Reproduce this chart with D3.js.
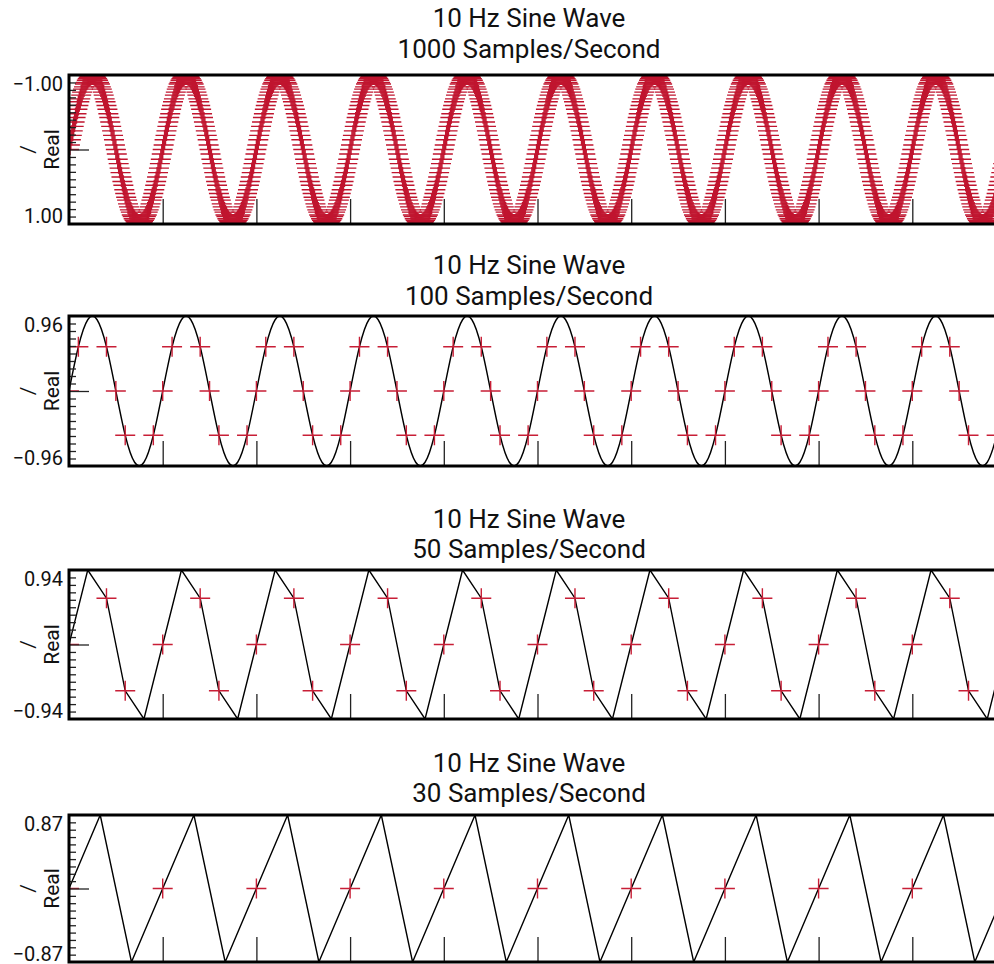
<!DOCTYPE html>
<html>
<head>
<meta charset="utf-8">
<script src="https://cdn.jsdelivr.net/npm/d3@7/dist/d3.min.js"></script>
<style>
  body { margin: 0; background: #fff; }
  svg { display: block; font-family: Roboto, sans-serif; }
</style>
</head>
<body>
<div id="chart"></div>
<script>
// ---- data ----
var titles = ["10 Hz Sine Wave", "10 Hz Sine Wave", "10 Hz Sine Wave", "10 Hz Sine Wave"];
var subtitles = ["1000 Samples/Second", "100 Samples/Second", "50 Samples/Second", "30 Samples/Second"];
var sampleRates = [1000, 100, 50, 30];

// one period of each sampled signal (the picture repeats it 10 times over 1 s)
var cycle1000 = [0, -0.06, -0.13, -0.19, -0.25, -0.31, -0.37, -0.43, -0.48, -0.54,
  -0.59, -0.64, -0.68, -0.73, -0.77, -0.81, -0.84, -0.88, -0.90, -0.93,
  -0.95, -0.97, -0.98, -0.99, -1.00, -1.00, -1.00, -0.99, -0.98, -0.97,
  -0.95, -0.93, -0.90, -0.88, -0.84, -0.81, -0.77, -0.73, -0.68, -0.64,
  -0.59, -0.54, -0.48, -0.43, -0.37, -0.31, -0.25, -0.19, -0.13, -0.06,
  0, 0.06, 0.13, 0.19, 0.25, 0.31, 0.37, 0.43, 0.48, 0.54,
  0.59, 0.64, 0.68, 0.73, 0.77, 0.81, 0.84, 0.88, 0.90, 0.93,
  0.95, 0.97, 0.98, 0.99, 1.00, 1.00, 1.00, 0.99, 0.98, 0.97,
  0.95, 0.93, 0.90, 0.88, 0.84, 0.81, 0.77, 0.73, 0.68, 0.64,
  0.59, 0.54, 0.48, 0.43, 0.37, 0.31, 0.25, 0.19, 0.13, 0.06];
var cycle100 = [0, 0.59, 0.95, 0.95, 0.59, 0, -0.59, -0.95, -0.95, -0.59];
var cycle50 = [0, 0.95, 0.59, -0.59, -0.95];
var cycle30 = [0, 0.87, -0.87];
var cycles = [cycle1000, cycle100, cycle50, cycle30];

// y extent per panel, value at top first (first panel is upside down)
var yTop = [-1, 1, 0.95, 0.87];
var yBottom = [1, -1, -0.95, -0.87];
var yTickLabels = [["\u22121.00", "1.00"], ["0.96", "\u22120.96"], ["0.94", "\u22120.94"], ["0.87", "\u22120.87"]];
var xTickValues = [0.1, 0.2, 0.3, 0.4, 0.5, 0.6, 0.7, 0.8, 0.9, 1.0];
var timeSpan = [0, 1];

// smooth line only in the 100 S/s plot
var smoothLine = [false, true, false, false];
// the peak samples are not marked in the lower three plots
var hidePeakMarks = [false, true, true, true];

// ---- layout ----
var width = 994, height = 964;
var left = 69, right = 1006;
var tops = [75, 316, 570, 815];
var bottoms = [224, 466, 719, 962];
var titleY = [[27, 58], [274, 305], [528, 558], [772, 802]];
var red = "#c81e36";

var svg = d3.select("#chart").append("svg")
  .attr("width", width).attr("height", height);

var x = d3.scaleLinear().domain(timeSpan).range([left, right]);

tops.forEach(function(top, p) {
  var bottom = bottoms[p];
  var rate = sampleRates[p];
  var cyc = cycles[p];

  // samples t = 0 .. 1 s
  var data = d3.range(0, rate + 1).map(function(k) {
    return { t: k / rate, v: cyc[k % cyc.length] };
  });

  var y = d3.scaleLinear().domain([yTop[p], yBottom[p]]).range([top, bottom]);
  var g = svg.append("g");

  g.append("clipPath").attr("id", "clip" + p)
    .append("rect")
    .attr("x", left).attr("y", top)
    .attr("width", right - left).attr("height", bottom - top);

  var plot = g.append("g").attr("clip-path", "url(#clip" + p + ")");

  if (p > 0) {
    var line = d3.line()
      .x(function(d) { return x(d.t); })
      .y(function(d) { return y(d.v); })
      .curve(smoothLine[p] ? d3.curveNatural : d3.curveLinear);
    plot.append("path")
      .datum(data)
      .attr("fill", "none")
      .attr("stroke", "#000")
      .attr("stroke-width", 1.4)
      .attr("d", line);
  }

  var peak = d3.max(data, function(d) { return Math.abs(d.v); });
  var marks = data.filter(function(d) {
    return !(hidePeakMarks[p] && Math.abs(d.v) >= peak);
  });

  plot.selectAll(".mark")
    .data(marks)
    .enter()
    .append("path")
    .attr("class", "mark")
    .attr("transform", function(d) { return "translate(" + x(d.t) + "," + y(d.v) + ")"; })
    .attr("d", "M-10,0H10M0,-10V10")
    .attr("fill", "none")
    .attr("stroke", p === 0 ? "#c0152f" : red)
    .attr("stroke-width", 1.4);

  // x ticks from the bottom edge, no labels
  var xAxis = d3.axisTop(x).tickValues(xTickValues).tickSize(25).tickFormat("");
  var xg = g.append("g").attr("transform", "translate(0," + bottom + ")").call(xAxis);
  xg.select(".domain").remove();
  xg.selectAll("line").attr("stroke", "#222").attr("stroke-width", 1.3);

  // minor y ticks inside the left edge, the middle one longer
  var lo = yTop[p], hi = yBottom[p];
  var yTicks = d3.range(1, 20).map(function(i) { return lo + (hi - lo) * i / 20; });
  var yAxis = d3.axisRight(y).tickValues(yTicks).tickSize(7).tickFormat("");
  var yg = g.append("g").attr("transform", "translate(" + left + ",0)").call(yAxis);
  yg.select(".domain").remove();
  yg.selectAll("line")
    .attr("stroke", "#222").attr("stroke-width", 1.3)
    .attr("x2", function(d, i) { return i === 9 ? 20 : 7; });

  // frame
  g.append("rect")
    .attr("x", left).attr("y", top)
    .attr("width", right - left).attr("height", bottom - top)
    .attr("fill", "none").attr("stroke", "#000").attr("stroke-width", 3);

  // y labels at the two ends
  g.append("text")
    .attr("x", left - 6).attr("y", top + 16)
    .attr("text-anchor", "end").attr("font-size", 20).attr("fill", "#111")
    .text(yTickLabels[p][0]);
  g.append("text")
    .attr("x", left - 6).attr("y", bottom - 1)
    .attr("text-anchor", "end").attr("font-size", 20).attr("fill", "#111")
    .text(yTickLabels[p][1]);

  // axis name
  var mid = (top + bottom) / 2;
  g.append("text")
    .attr("transform", "translate(35," + mid + ") rotate(-90)")
    .attr("text-anchor", "middle").attr("font-size", 21).attr("fill", "#111")
    .text("/");
  g.append("text")
    .attr("transform", "translate(59," + mid + ") rotate(-90)")
    .attr("text-anchor", "middle").attr("font-size", 21).attr("fill", "#111")
    .text("Real");

  // title
  g.append("text")
    .attr("x", 529).attr("y", titleY[p][0])
    .attr("text-anchor", "middle").attr("font-size", 26).attr("fill", "#111")
    .text(titles[p]);
  g.append("text")
    .attr("x", 529).attr("y", titleY[p][1])
    .attr("text-anchor", "middle").attr("font-size", 26).attr("fill", "#111")
    .text(subtitles[p]);
});
</script>
</body>
</html>
